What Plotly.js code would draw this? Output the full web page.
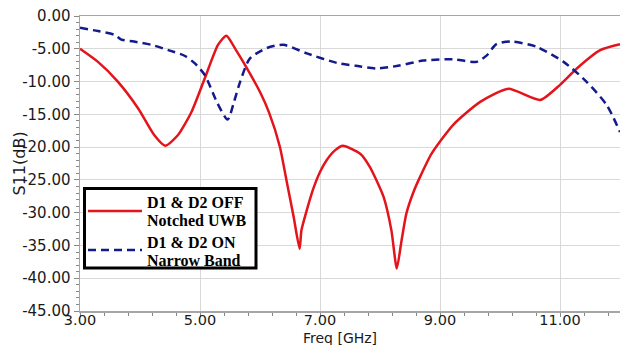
<!DOCTYPE html>
<html>
<head>
<meta charset="utf-8">
<script src="https://cdn.plot.ly/plotly-3.0.1.min.js"></script>
<style>
  html, body { margin: 0; padding: 0; background: #fff; }
  #chart { width: 622px; height: 345px; }
</style>
</head>
<body>
<div id="chart"></div>
<script>
// Frequency (GHz) and S11 (dB) — D1 & D2 OFF (Notched UWB)
const freqOff = [3.0, 3.3, 3.63, 3.97, 4.24, 4.42, 4.63, 4.86, 5.08, 5.3, 5.44, 5.6, 5.72, 6.0, 6.15, 6.33, 6.44, 6.56, 6.66, 6.69, 6.78, 6.89, 7.0, 7.11, 7.25, 7.38, 7.67, 7.83, 8.06, 8.19, 8.28, 8.36, 8.44, 8.56, 8.67, 8.86, 9.22, 9.67, 10.14, 10.67, 11.0, 11.28, 11.67, 12.0];
const s11Off  = [-5.0, -7.0, -10.0, -14.1, -18.2, -19.8, -18.2, -14.6, -9.5, -4.4, -3.0, -5.2, -7.0, -11.6, -14.7, -19.9, -25.0, -30.6, -35.5, -32.7, -29.6, -26.3, -23.8, -22.0, -20.5, -19.8, -21.0, -23.0, -27.6, -32.7, -38.5, -34.2, -30.1, -26.8, -24.5, -21.0, -16.6, -13.1, -11.1, -12.8, -10.5, -8.0, -5.2, -4.3];

// D1 & D2 ON (Narrow Band)
const freqOn = [3.0, 3.3, 3.58, 3.69, 3.9, 4.19, 4.47, 4.75, 4.91, 5.08, 5.29, 5.46, 5.57, 5.67, 5.83, 6.11, 6.39, 6.78, 7.3, 7.6, 7.94, 8.3, 8.72, 9.22, 9.61, 9.78, 9.94, 10.19, 10.61, 11.06, 11.44, 11.78, 12.0];
const s11On  = [-1.8, -2.3, -2.9, -3.6, -3.9, -4.4, -5.2, -6.1, -7.2, -9.0, -13.3, -15.8, -13.0, -10.0, -6.5, -4.9, -4.4, -5.7, -7.2, -7.6, -8.0, -7.6, -6.8, -6.6, -7.0, -6.0, -4.3, -3.9, -4.7, -7.0, -10.0, -13.6, -17.7];

const legendLines = [["D1 &amp; D2 OFF", "Notched UWB"], ["D1 &amp; D2 ON", "Narrow Band"]];
const seriesColors = ["#e3141b", "#141a8c"];
const xTitle = "Freq [GHz]";
const yTitle = "S11(dB)";

const xTickVals = [3, 5, 7, 9, 11];
const xTickText = ["3.00", "5.00", "7.00", "9.00", "11.00"];
const yTickVals = [0, -5, -10, -15, -20, -25, -30, -35, -40, -45];
const yTickText = ["0.00", "-5.00", "-10.00", "-15.00", "-20.00", "-25.00", "-30.00", "-35.00", "-40.00", "-45.00"];

const redDash = "solid", blueDash = "8px,5px";

const traces = [
  {
    x: freqOff, y: s11Off, type: "scatter", mode: "lines", showlegend: false,
    line: { color: seriesColors[0], width: 2.5, shape: "spline", smoothing: 0.6 }
  },
  {
    x: freqOn, y: s11On, type: "scatter", mode: "lines", showlegend: false,
    line: { color: seriesColors[1], width: 2.5, dash: blueDash, shape: "spline", smoothing: 0.7 }
  }
];

const axisFont = { family: "DejaVu Sans, sans-serif", size: 15, color: "#1a1a1a" };
const xTickFont = { family: "DejaVu Sans, sans-serif", size: 14.5, color: "#1a1a1a" };

// pixel -> paper helpers for the hand-built legend and axis titles
const px = v => (v - 80) / 540;
const py = v => (311 - v) / 295;
const legFont = { family: "Liberation Serif, Times New Roman, serif", size: 16, color: "#000", weight: "bold" };

const shapes = [
  { type: "rect", xref: "paper", yref: "paper", x0: px(84.5), x1: px(256), y0: py(268), y1: py(188.5),
    fillcolor: "#fff", line: { color: "#000", width: 3 }, layer: "above" },
  { type: "line", xref: "paper", yref: "paper", x0: px(88), x1: px(142), y0: py(211), y1: py(211),
    line: { color: seriesColors[0], width: 2.5, dash: redDash }, layer: "above" },
  { type: "line", xref: "paper", yref: "paper", x0: px(88), x1: px(142), y0: py(250), y1: py(250),
    line: { color: seriesColors[1], width: 2.5, dash: blueDash }, layer: "above" }
];
const legY = [[202.5, 221], [242, 260.5]];
const annotations = [];
legendLines.forEach((pair, i) => pair.forEach((t, j) => annotations.push({
  xref: "paper", yref: "paper", x: px(145), y: py(legY[i][j]), xanchor: "left", yanchor: "middle",
  text: t, showarrow: false, font: legFont
})));
annotations.push({
  xref: "paper", yref: "paper", x: px(340), y: py(337.5), xanchor: "center", yanchor: "middle",
  text: xTitle, showarrow: false, font: { family: "DejaVu Sans, sans-serif", size: 14, color: "#1a1a1a" }
});
annotations.push({
  xref: "paper", yref: "paper", x: px(18.5), y: py(164), xanchor: "center", yanchor: "middle",
  text: yTitle, textangle: -90, showarrow: false,
  font: { family: "DejaVu Sans, sans-serif", size: 16, color: "#1a1a1a" }
});

const layout = {
  width: 622, height: 345,
  margin: { l: 80, r: 2, t: 16, b: 34 },
  paper_bgcolor: "#fff", plot_bgcolor: "#fff",
  showlegend: false,
  xaxis: {
    range: [3, 12], tickvals: xTickVals, ticktext: xTickText,
    showgrid: true, gridcolor: "#d9d9d9", gridwidth: 1,
    showline: true, linecolor: "#a6a6a6", linewidth: 1.5, mirror: true,
    ticks: "outside", ticklen: 4, tickcolor: "#888", ticklabelstandoff: -9,
    minor: { tick0: 3, dtick: 0.4, ticks: "outside", ticklen: 3, tickcolor: "#888", showgrid: false },
    tickfont: xTickFont, zeroline: false
  },
  yaxis: {
    range: [-45, 0], tickvals: yTickVals, ticktext: yTickText,
    showgrid: true, gridcolor: "#d9d9d9", gridwidth: 1,
    showline: true, linecolor: "#a6a6a6", linewidth: 1.5,
    ticks: "outside", ticklen: 5, tickcolor: "#888",
    minor: { tick0: 0, dtick: 1, ticks: "outside", ticklen: 3, tickcolor: "#888", showgrid: false },
    tickfont: axisFont, zeroline: false
  },
  shapes: shapes,
  annotations: annotations
};

Plotly.newPlot("chart", traces, layout, { displayModeBar: false, staticPlot: true });
</script>
</body>
</html>
